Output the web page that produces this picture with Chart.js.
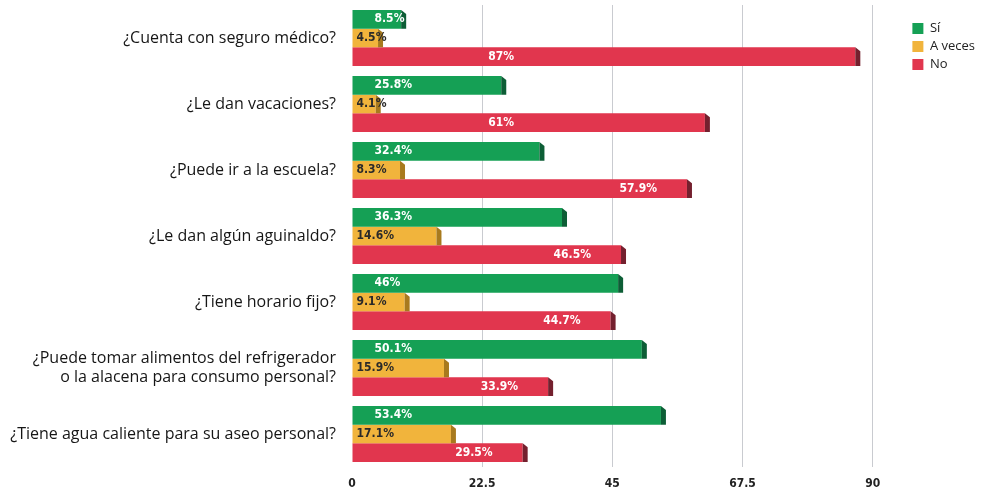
<!DOCTYPE html>
<html>
<head>
<meta charset="utf-8">
<script src="https://cdn.jsdelivr.net/npm/chart.js@4"></script>
<style>
  html, body { margin:0; padding:0; background:#fff; }
  #wrap { width:985px; height:491px; }
</style>
</head>
<body>
<div id="wrap"><canvas id="chart"></canvas></div>
<script>
// categories (questions)
const questions = [
  "¿Cuenta con seguro médico?",
  "¿Le dan vacaciones?",
  "¿Puede ir a la escuela?",
  "¿Le dan algún aguinaldo?",
  "¿Tiene horario fijo?",
  ["¿Puede tomar alimentos del refrigerador", "o la alacena para consumo personal?"],
  "¿Tiene agua caliente para su aseo personal?"
]

// series values (%)
const si = [8.5, 25.8, 32.4, 36.3, 46, 50.1, 53.4]
const aVeces = [4.5, 4.1, 8.3, 14.6, 9.1, 15.9, 17.1]
const no = [87, 61, 57.9, 46.5, 44.7, 33.9, 29.5]

// x axis tick labels
const xTicks = [0, 22.5, 45, 67.5, 90]

const colors = {
  si: "#15a055", siDark: "#0d5e36",
  av: "#f1b43c", avDark: "#a87a1e",
  no: "#e1364e", noDark: "#74202e"
}

// plugin: value labels on the bars
const barLabels = {
  id: "barLabels",
  afterDatasetsDraw(chart) {
    const ctx = chart.ctx
    const x = chart.scales.x
    chart.data.datasets.forEach((ds, di) => {
      const meta = chart.getDatasetMeta(di)
      meta.data.forEach((bar, i) => {
        const v = ds.data[i]
        const txt = v + "%"
        ctx.save()
        ctx.font = "bold 12px 'DejaVu Sans Condensed', 'DejaVu Sans'"
        ctx.textBaseline = "middle"
        if (di == 0) {
          ctx.fillStyle = "#fff"
          ctx.textAlign = "left"
          ctx.fillText(txt, bar.base + 22, bar.y)
        } else if (di == 1) {
          ctx.fillStyle = "#2a2a2a"
          ctx.textAlign = "left"
          ctx.fillText(txt, bar.base + 4, bar.y)
        } else {
          ctx.fillStyle = "#fff"
          ctx.textAlign = "right"
          let px = v > 60 ? x.getPixelForValue(28) : bar.x - 30
          ctx.fillText(txt, px, bar.y)
        }
        ctx.restore()
      })
    })
  }
}

// plugin: dark end face to fake the 3d look
const shade = {
  id: "shade",
  afterDatasetsDraw(chart) {
    const ctx = chart.ctx
    const darks = [colors.siDark, colors.avDark, colors.noDark]
    chart.data.datasets.forEach((ds, di) => {
      chart.getDatasetMeta(di).data.forEach(bar => {
        const h = bar.height
        ctx.save()
        ctx.fillStyle = darks[di]
        ctx.beginPath()
        ctx.moveTo(bar.x, bar.y - h / 2)
        ctx.lineTo(bar.x + 5, bar.y - h / 2 + 4)
        ctx.lineTo(bar.x + 5, bar.y + h / 2)
        ctx.lineTo(bar.x, bar.y + h / 2)
        ctx.closePath()
        ctx.fill()
        ctx.restore()
      })
    })
  }
}

new Chart(document.getElementById("chart"), {
  type: "bar",
  plugins: [shade, barLabels],
  data: {
    labels: questions,
    datasets: [
      { label: "Sí", data: si, backgroundColor: colors.si },
      { label: "A veces", data: aVeces, backgroundColor: colors.av },
      { label: "No", data: no, backgroundColor: colors.no }
    ]
  },
  options: {
    indexAxis: "y",
    responsive: true,
    maintainAspectRatio: false,
    animation: false,
    layout: { padding: { top: 5, right: 0, left: 6, bottom: 0 } },
    datasets: {
      bar: { categoryPercentage: 0.85, barPercentage: 1.0 }
    },
    scales: {
      x: {
        min: 0,
        max: 96,
        afterBuildTicks: s => { s.ticks = xTicks.map(v => ({ value: v })) },
        afterFit: s => { s.height = 24 },
        border: { display: false },
        grid: {
          color: c => c.tick && c.tick.value == 0 ? "rgba(0,0,0,0)" : "#c9cbd0",
          drawTicks: false
        },
        ticks: {
          padding: 10,
          color: "#222",
          font: { family: "'DejaVu Sans Condensed', 'DejaVu Sans'", size: 12, weight: "bold" },
          callback: v => v
        }
      },
      y: {
        afterFit: s => { s.width = 346; s.paddingTop = 0; s.paddingBottom = 0 },
        border: { display: false },
        grid: { display: false },
        ticks: {
          padding: 8,
          color: "#161616",
          font: { family: "'Open Sans'", size: 16, lineHeight: 1.15 }
        }
      }
    },
    plugins: {
      tooltip: { enabled: false },
      legend: {
        position: "right",
        align: "start",
        title: { display: true, text: " ", font: { size: 10 }, padding: 0 },
        labels: {
          boxWidth: 11,
          boxHeight: 11,
          padding: 5,
          color: "#222",
          font: { family: "'Open Sans'", size: 13 }
        }
      }
    }
  }
})
</script>
</body>
</html>
